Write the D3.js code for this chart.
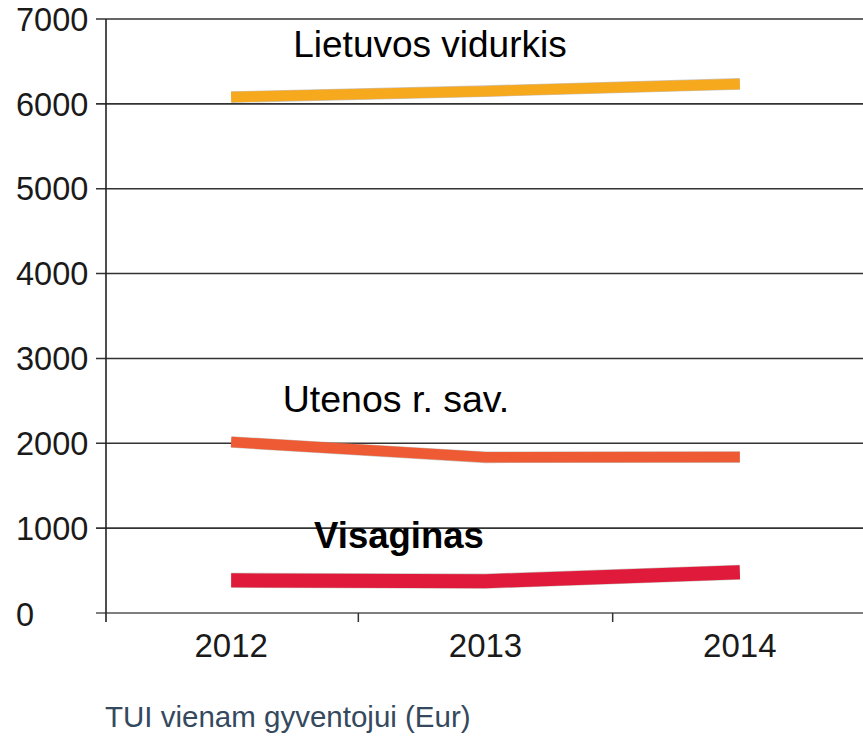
<!DOCTYPE html>
<html>
<head>
<meta charset="utf-8">
<script src="https://cdn.jsdelivr.net/npm/d3@7"></script>
<style>
  html, body { margin: 0; padding: 0; background: #fff; }
  svg { display: block; font-family: "Liberation Sans", Arial, sans-serif; }
</style>
</head>
<body>
<svg id="chart" width="863" height="736"></svg>
<script>
const years = ["2012", "2013", "2014"];
const yTicks = [0, 1000, 2000, 3000, 4000, 5000, 6000, 7000];
const lietuvos = [6080, 6150, 6235];
const utenos = [2015, 1835, 1838];
const visaginas = [385, 375, 480];
const seriesNames = ["Lietuvos vidurkis", "Utenos r. sav.", "Visaginas"];
const seriesColors = ["#F6A91D", "#EE5A33", "#E01A3B"];
const title = "TUI vienam gyventojui (Eur)";

(function () {
const series = [
  { name: seriesNames[0], values: lietuvos, color: seriesColors[0], width: 10.5, bold: false, label: [430, 57], size: 37 },
  { name: seriesNames[1], values: utenos, color: seriesColors[1], width: 10.5, bold: false, label: [396, 412], size: 37.5 },
  { name: seriesNames[2], values: visaginas, color: seriesColors[2], width: 14, bold: true, label: [399, 548], size: 36.5 }
];

const svg = d3.select("#chart");
const mLeft = 106, mRight = 863, mTop = 19, mBottom = 613;

const x = d3.scaleBand().domain(years).range([104, 867]).paddingInner(0).paddingOuter(0);
const y = d3.scaleLinear().domain([0, 7000]).range([mBottom, mTop]);

// gridlines (horizontal)
svg.append("g")
  .selectAll("line")
  .data(yTicks)
  .join("line")
  .attr("x1", 96).attr("x2", mRight)
  .attr("y1", d => y(d)).attr("y2", d => y(d))
  .attr("stroke", d => d === 0 ? "#555" : "#333")
  .attr("stroke-width", 1.6);

// y axis line
svg.append("line")
  .attr("x1", mLeft).attr("x2", mLeft)
  .attr("y1", mTop).attr("y2", mBottom + 9)
  .attr("stroke", "#222").attr("stroke-width", 1.6);

// y tick labels (left-aligned, as in the reference)
svg.append("g")
  .selectAll("text")
  .data(yTicks)
  .join("text")
  .attr("x", 16)
  .attr("y", d => y(d))
  .attr("dy", d => d === 0 ? "0.4em" : "0.36em")
  .attr("text-anchor", "start")
  .attr("font-size", 32.5)
  .attr("fill", "#1a1a1a")
  .text(d => d);

// x tick marks at band boundaries
svg.append("g")
  .selectAll("line")
  .data(years.slice(1))
  .join("line")
  .attr("x1", d => x(d)).attr("x2", d => x(d))
  .attr("y1", mBottom).attr("y2", mBottom + 9)
  .attr("stroke", "#333").attr("stroke-width", 1.5);

// x labels
svg.append("g")
  .selectAll("text")
  .data(years)
  .join("text")
  .attr("x", d => x(d) + x.bandwidth() / 2)
  .attr("y", 657)
  .attr("text-anchor", "middle")
  .attr("font-size", 33)
  .attr("fill", "#1a1a1a")
  .text(d => d);

const line = d3.line()
  .x((d, i) => x(years[i]) + x.bandwidth() / 2)
  .y(d => y(d));

series.forEach(s => {
  svg.append("path")
    .attr("d", line(s.values))
    .attr("fill", "none")
    .attr("stroke", "#9a8a80")
    .attr("stroke-opacity", 0.5)
    .attr("stroke-width", s.width + 1.2)
    .attr("stroke-linecap", "butt");
  svg.append("path")
    .attr("d", line(s.values))
    .attr("fill", "none")
    .attr("stroke", s.color)
    .attr("stroke-width", s.width)
    .attr("stroke-linecap", "butt")
    .attr("stroke-linejoin", "bevel");
  svg.append("text")
    .attr("x", s.label[0]).attr("y", s.label[1])
    .attr("text-anchor", "middle")
    .attr("font-size", s.size)
    .attr("font-weight", s.bold ? "bold" : "normal")
    .attr("fill", "#000")
    .text(s.name);
});

svg.append("text")
  .attr("x", 105).attr("y", 727)
  .attr("font-size", 29.5)
  .attr("fill", "#34495E")
  .text(title);
})();
</script>
</body>
</html>
